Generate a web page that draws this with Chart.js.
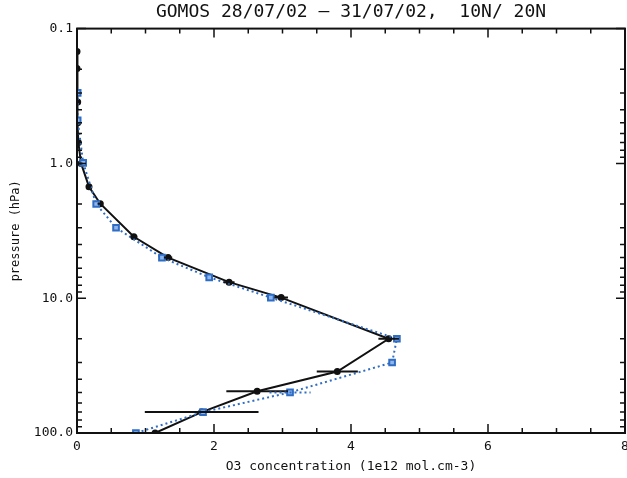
<!DOCTYPE html>
<html>
<head>
<meta charset="utf-8">
<script src="https://cdn.jsdelivr.net/npm/chart.js@4.4.1/dist/chart.umd.min.js"></script>
<style>
  html, body { margin: 0; padding: 0; background: #fff; overflow: hidden; }
  #wrap { position: absolute; left: 0; top: 0; width: 640px; height: 478px; }
</style>
</head>
<body>
<div id="wrap"><canvas id="myChart"></canvas></div>
<script>
// GOMOS ozone profile (black, with error bars)
const gomosConc = [0, 0, 0.01, 0.01, 0.02, 0.06, 0.175, 0.34, 0.83, 1.33, 2.22, 2.98, 4.55, 3.80, 2.63, 1.82, 1.14];
const gomosPres = [0.148, 0.198, 0.35, 0.5, 0.7, 1.0, 1.49, 1.99, 3.5, 5.0, 7.6, 9.9, 20, 35, 49, 70, 100];
const gomosErr  = [0.01, 0.01, 0.01, 0.01, 0.02, 0.02, 0.03, 0.04, 0.05, 0.06, 0.08, 0.1, 0.15, 0.3, 0.45, 0.83, 1.2];

// reference profile (blue squares, dotted)
const refConc = [0.01, 0.01, 0.09, 0.28, 0.57, 1.24, 1.93, 2.83, 4.67, 4.60, 3.11, 1.84, 0.86];
const refPres = [0.30, 0.48, 0.99, 2.0, 3.0, 5.0, 7.0, 9.9, 20, 30, 50, 70, 100];
const refErr  = [0, 0, 0, 0, 0, 0, 0, 0, 0, 0, 0.3, 0, 0.47];

const xTicks = [0, 2, 4, 6, 8];
const yTicks = [0.1, 1, 10, 100];
const yTickLabels = ["0.1", "1.0", "10.0", "100.0"];

const FONT = "'DejaVu Sans Mono', monospace";
const BLUE = "#2f6cc4";

function toPoints(xs, ys) {
  return xs.map(function (x, i) { return { x: x, y: ys[i] }; });
}

// inward tick marks on all four sides + box
const frameTicks = {
  id: "frameTicks",
  afterDraw(chart) {
    const ctx = chart.ctx;
    const a = chart.chartArea;
    const xs = chart.scales.x;
    const ys = chart.scales.y;
    ctx.save();
    ctx.strokeStyle = "#111";
    ctx.lineWidth = 1.5;
    for (let v = 0; v <= 8.001; v += 0.5) {
      const px = xs.getPixelForValue(v);
      const len = (Math.abs(v % 2) < 0.001) ? 9 : 5;
      ctx.beginPath();
      ctx.moveTo(px, a.bottom); ctx.lineTo(px, a.bottom - len);
      ctx.moveTo(px, a.top); ctx.lineTo(px, a.top + len);
      ctx.stroke();
    }
    for (let d = 0.1; d < 100.5; d *= 10) {
      for (let m = 1; m <= 9; m++) {
        const v = d * m;
        if (v > 100.001) break;
        const py = ys.getPixelForValue(v);
        const len = m === 1 ? 9 : 5;
        ctx.beginPath();
        ctx.moveTo(a.left, py); ctx.lineTo(a.left + len, py);
        ctx.moveTo(a.right, py); ctx.lineTo(a.right - len, py);
        ctx.stroke();
      }
    }
    ctx.lineWidth = 2;
    ctx.strokeRect(a.left, a.top, a.right - a.left, a.bottom - a.top);
    ctx.restore();
  }
};

// horizontal error bars
const errorBars = {
  id: "errorBars",
  afterDatasetsDraw(chart) {
    const ctx = chart.ctx;
    const a = chart.chartArea;
    const xs = chart.scales.x;
    const ys = chart.scales.y;
    ctx.save();
    ctx.beginPath();
    ctx.rect(a.left, a.top, a.right - a.left, a.bottom - a.top);
    ctx.clip();
    ctx.strokeStyle = "#111";
    ctx.lineWidth = 2;
    for (let i = 0; i < gomosConc.length; i++) {
      const py = ys.getPixelForValue(gomosPres[i]);
      ctx.beginPath();
      ctx.moveTo(xs.getPixelForValue(gomosConc[i] - gomosErr[i]), py);
      ctx.lineTo(xs.getPixelForValue(gomosConc[i] + gomosErr[i]), py);
      ctx.stroke();
    }
    ctx.strokeStyle = BLUE;
    ctx.setLineDash([2, 3]);
    for (let i = 0; i < refConc.length; i++) {
      if (!refErr[i]) continue;
      const py = ys.getPixelForValue(refPres[i]);
      ctx.beginPath();
      ctx.moveTo(xs.getPixelForValue(refConc[i] - refErr[i]), py);
      ctx.lineTo(xs.getPixelForValue(refConc[i] + refErr[i]), py);
      ctx.stroke();
    }
    ctx.restore();
  }
};

let ctx = document.getElementById("myChart").getContext("2d");
let myChart = new Chart(ctx, {
  type: "scatter",
  data: {
    datasets: [
      {
        label: "reference",
        data: toPoints(refConc, refPres),
        showLine: true,
        borderColor: BLUE,
        borderWidth: 2,
        borderDash: [2, 3],
        pointStyle: "rect",
        pointRadius: 4,
        pointBackgroundColor: "#8fb6ea",
        pointBorderColor: BLUE,
        pointBorderWidth: 2,
      },
      {
        label: "GOMOS",
        data: toPoints(gomosConc, gomosPres),
        showLine: true,
        borderColor: "#111",
        borderWidth: 2,
        pointRadius: 2.5,
        pointBackgroundColor: "#111",
        pointBorderColor: "#111",
      },
    ],
  },
  options: {
    responsive: true,
    maintainAspectRatio: false,
    animation: false,
    layout: { padding: { left: 0, right: 15, top: 0, bottom: 0 } },
    plugins: {
      legend: { display: false },
      tooltip: { enabled: false },
      title: {
        display: true,
        text: "GOMOS 28/07/02 \u2013 31/07/02,  10N/ 20N",
        fullSize: false,
        color: "#111",
        font: { family: FONT, size: 18, weight: "normal", lineHeight: 1.2 },
        padding: { top: 2, bottom: 5 },
      },
    },
    scales: {
      x: {
        type: "linear",
        min: 0,
        max: 8,
        grid: { display: false, drawTicks: false },
        border: { display: false },
        afterBuildTicks: function (scale) {
          scale.ticks = xTicks.map(function (v) { return { value: v }; });
        },
        afterFit: function (scale) { scale.height = 45; },
        ticks: {
          color: "#111",
          padding: 6,
          maxRotation: 0,
          font: { family: FONT, size: 13 },
          callback: function (v) { return String(v); },
        },
        title: {
          display: true,
          text: "O3 concentration (1e12 mol.cm-3)",
          color: "#111",
          font: { family: FONT, size: 13 },
          padding: { top: 0, bottom: 4 },
        },
      },
      y: {
        type: "logarithmic",
        min: 0.1,
        max: 100,
        reverse: true,
        grid: { display: false, drawTicks: false },
        border: { display: false },
        afterBuildTicks: function (scale) {
          scale.ticks = yTicks.map(function (v) { return { value: v }; });
        },
        afterFit: function (scale) { scale.width = 77; },
        ticks: {
          color: "#111",
          padding: 4,
          font: { family: FONT, size: 13 },
          callback: function (v) {
            const i = yTicks.indexOf(v);
            return i >= 0 ? yTickLabels[i] : "";
          },
        },
        title: {
          display: true,
          text: "pressure (hPa)",
          color: "#111",
          font: { family: FONT, size: 12 },
          padding: { top: 9, bottom: 0 },
        },
      },
    },
  },
  plugins: [errorBars, frameTicks],
});
</script>
</body>
</html>
